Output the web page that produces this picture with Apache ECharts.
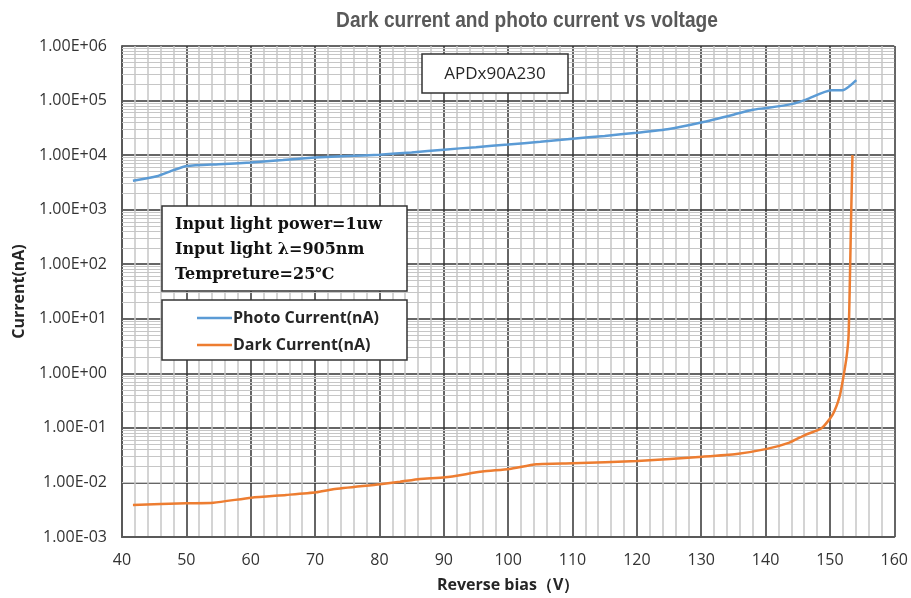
<!DOCTYPE html>
<html>
<head>
<meta charset="utf-8">
<script src="https://cdn.jsdelivr.net/npm/echarts@6/dist/echarts.min.js"></script>
<style>html,body{margin:0;padding:0;background:#fff}#c{width:911px;height:598px}</style>
</head>
<body>
<div id="c"></div>
<script>
// ---- data ----
var photoV = [41.7, 45.4, 48, 50.1, 55, 60, 65, 70, 75, 80, 85, 90, 95, 100, 105, 110, 115, 120, 125, 130, 135, 138, 140.2, 144.2, 146.3, 150.2, 152, 154.1];
var photoI = [3400, 4100, 5300, 6300, 6800, 7300, 8100, 9000, 9600, 10200, 11200, 12600, 14000, 15600, 17500, 20000, 22500, 25700, 30000, 39500, 55000, 68000, 73000, 87000, 104000, 155000, 155000, 236000];
var darkV = [41.7, 50, 54.2, 60.1, 65.5, 70.2, 72.8, 80.1, 83.2, 86.3, 90.2, 96, 100.2, 104.4, 110, 120.1, 130.2, 135.5, 140.2, 143.7, 146.1, 148.7, 150.4, 151.5, 152.1, 152.6, 152.9, 153.1, 153.3, 153.5];
var darkI = [0.00387, 0.00415, 0.00425, 0.00526, 0.0059, 0.0066, 0.0075, 0.00927, 0.0103, 0.0116, 0.0124, 0.0158, 0.0177, 0.0216, 0.0225, 0.0248, 0.0297, 0.0333, 0.0412, 0.0537, 0.074, 0.0986, 0.174, 0.375, 0.87, 2.04, 5, 50, 800, 10000];
var xTicks = [40, 50, 60, 70, 80, 90, 100, 110, 120, 130, 140, 150, 160];
var yTickLabels = ['1.00E-03','1.00E-02','1.00E-01','1.00E+00','1.00E+01','1.00E+02','1.00E+03','1.00E+04','1.00E+05','1.00E+06'];
var seriesNames = ['Photo Current(nA)', 'Dark Current(nA)'];
var titleText = 'Dark current and photo current vs voltage';
var modelText = 'APDx90A230';
var infoLines = ['Input light power=1uw', 'Input light \u03bb=905nm', 'Tempreture=25\u2103'];

// log minor grid positions (2..9 x 10^e)
var minorY = [];
for (var e = -3; e < 6; e++) { for (var k = 2; k <= 9; k++) { minorY.push({yAxis: k * Math.pow(10, e)}); } }

function pairs(xs, ys) { return xs.map(function (x, i) { return [x, ys[i]]; }); }

var chart = echarts.init(document.getElementById('c'), null, {renderer: 'canvas'});
var font = '"Open Sans", "Liberation Sans", sans-serif';
var serif = 'bold 16px "DejaVu Serif", "Liberation Serif", serif';
chart.setOption({
  animation: false,
  backgroundColor: '#fff',
  grid: {left: 122, right: 16, top: 46, bottom: 61, show: false},
  legend: {
    data: seriesNames, orient: 'vertical', left: 192, top: 305, itemGap: 11,
    icon: 'rect', itemWidth: 35, itemHeight: 2.5,
    textStyle: {fontSize: 16, fontWeight: 'bold', color: '#262626', fontFamily: font, padding: [0, 0, 0, -4]},
    z: 10
  },
  xAxis: {
    type: 'value', min: 40, max: 160, interval: 10,
    name: 'Reverse bias\uff08V\uff09', nameLocation: 'middle', nameGap: 40,
    nameTextStyle: {fontSize: 16, fontWeight: 'bold', color: '#262626', fontFamily: font},
    axisLine: {show: true, lineStyle: {color: '#595959', width: 2}},
    axisTick: {show: false},
    axisLabel: {fontSize: 16, color: '#333', margin: 15, fontFamily: font,
      formatter: function (v) { return xTicks.indexOf(v) >= 0 ? String(v) : ''; }},
    splitLine: {show: true, lineStyle: {color: '#333', width: 1.5}},
    minorTick: {show: false, splitNumber: 5},
    minorSplitLine: {show: true, lineStyle: {color: '#c6c6c6', width: 1.5}}
  },
  yAxis: {
    type: 'log', logBase: 10, min: 1e-3, max: 1e6, interval: 1,
    name: 'Current(nA)', nameLocation: 'middle', nameGap: 95,
    nameTextStyle: {fontSize: 16, fontWeight: 'bold', color: '#262626', fontFamily: font},
    axisLine: {show: true, lineStyle: {color: '#595959', width: 2}},
    axisTick: {show: false},
    axisLabel: {fontSize: 16, color: '#333', margin: 15, fontFamily: font,
      formatter: function (v) {
        var ex = Math.round(Math.log10(v));
        return yTickLabels[ex + 3] || '';
      }},
    splitLine: {show: true, lineStyle: {color: '#333', width: 1.5}}
  },
  series: [
    {
      name: '_minor', type: 'line', data: pairs(photoV, photoI), z: -1, silent: true,
      showSymbol: false, lineStyle: {opacity: 0}, legendHoverLink: false,
      markLine: {silent: true, symbol: 'none', label: {show: false}, animation: false,
        lineStyle: {color: '#c6c6c6', width: 1.2, type: 'solid'}, data: minorY}
    },
    {
      name: seriesNames[0], type: 'line', data: pairs(photoV, photoI), z: 5,
      showSymbol: false, smooth: 0.2, color: '#5b9bd5', lineStyle: {width: 2.5, color: '#5b9bd5'}
    },
    {
      name: seriesNames[1], type: 'line', data: pairs(darkV, darkI), z: 5,
      showSymbol: false, smooth: 0.2, color: '#ed7d31', lineStyle: {width: 2.5, color: '#ed7d31'}
    }
  ],
  graphic: [
    {type: 'text', z: 9, x: 527, y: 21, scaleX: 0.87,
      style: {text: titleText, fill: '#595959', font: 'bold 22px "Liberation Sans", Arial, sans-serif', textAlign: 'center', textVerticalAlign: 'middle'}},
    {type: 'rect', z: 8, shape: {x: 422, y: 54, width: 146, height: 39},
      style: {fill: '#fff', stroke: '#333', lineWidth: 1.5}},
    {type: 'text', z: 9, x: 495, y: 74,
      style: {text: modelText, fill: '#262626', font: '17px ' + font, textAlign: 'center', textVerticalAlign: 'middle'}},
    {type: 'rect', z: 8, shape: {x: 162, y: 206, width: 245, height: 85},
      style: {fill: '#fff', stroke: '#333', lineWidth: 1.5}},
    {type: 'text', z: 9, x: 175, y: 225,
      style: {text: infoLines[0], fill: '#111', font: serif, textVerticalAlign: 'middle'}},
    {type: 'text', z: 9, x: 175, y: 250,
      style: {text: infoLines[1], fill: '#111', font: serif, textVerticalAlign: 'middle'}},
    {type: 'text', z: 9, x: 175, y: 275,
      style: {text: infoLines[2], fill: '#111', font: serif, textVerticalAlign: 'middle'}},
    {type: 'rect', z: 8, shape: {x: 162, y: 300, width: 245, height: 60},
      style: {fill: '#fff', stroke: '#333', lineWidth: 1.5}}
  ]
});
</script>
</body>
</html>
